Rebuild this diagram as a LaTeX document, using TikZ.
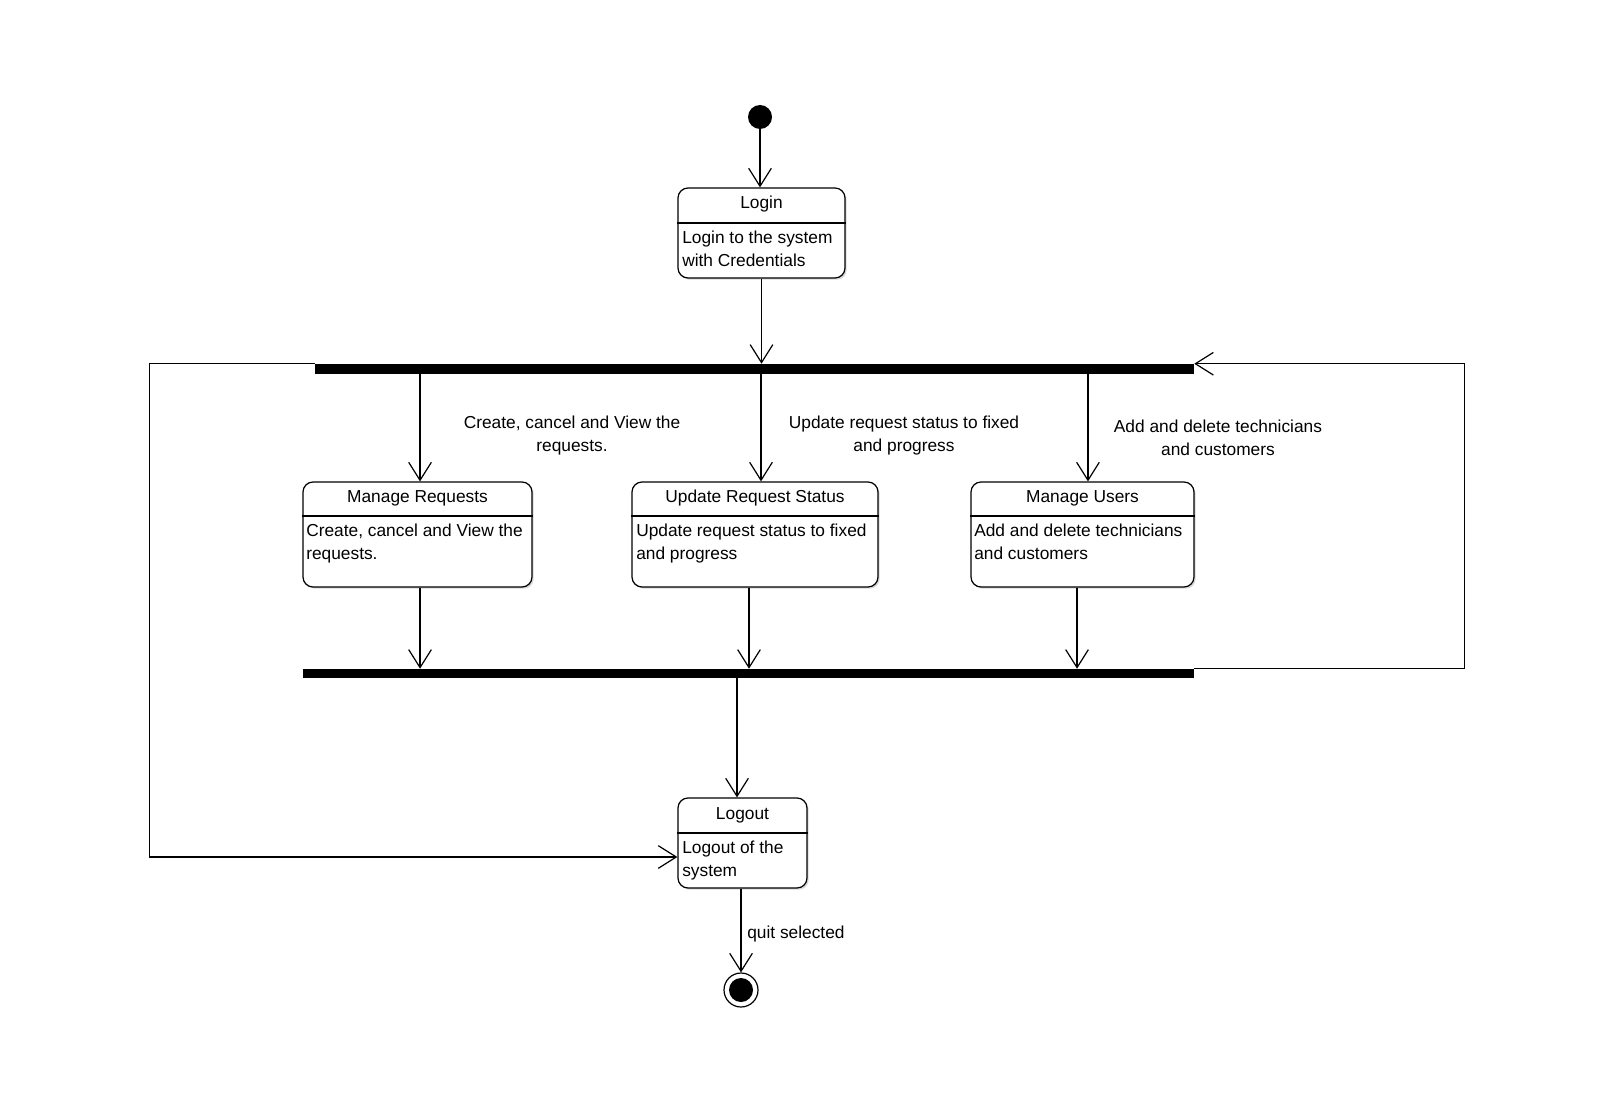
\documentclass[tikz,border=0pt]{standalone}
\usepackage{fontspec}
\setmainfont{Liberation Sans}
\usetikzlibrary{arrows.meta,fit,shadows}
\begin{document}
\begin{tikzpicture}[x=0.75pt,y=-0.75pt,
  every node/.style={font=\fontsize{13}{17.25}\selectfont},
  lw/.style={line width=0.9pt},
  arr/.style={lw,-{Straight Barb[length=13.5pt,width=17pt,line width=0.9pt]}},
  statebox/.style={draw,line width=0.9pt,rounded corners=7.5pt,inner sep=0pt,fill=white,
    drop shadow={shadow xshift=1.3pt,shadow yshift=-1.3pt,opacity=0.3}},
  syncbar/.style={fill=black,inner sep=0pt,rectangle},
  title/.style={anchor=base,inner sep=0pt},
  body/.style={anchor=north west,align=left,inner sep=0pt},
  lbl/.style={anchor=north,align=center,inner sep=0pt}]
\useasboundingbox (0,0) rectangle (1600,1095);
\fill[white] (0,0) rectangle (1600,1095);

% initial
\node[circle,fill=black,minimum size=18pt,inner sep=0pt] (init) at (760,117) {};

% Login
\node[statebox,fit={(678,188) (845,278)}] (login) {};
\draw[lw] (login.west |- 0,223) -- (login.east |- 0,223);
\node[title] (loginT) at (761.5,209) {Login};
\node[body] (loginB) at (682,230.6) {Login to the system\\with Credentials};

% bars
\node[syncbar,fit={(315,364) (1194,374)}] (fork) {};
\node[syncbar,fit={(303,669) (1194,678)}] (join) {};

% Manage Requests
\node[statebox,fit={(303,482) (532,587)}] (mr) {};
\draw[lw] (mr.west |- 0,516) -- (mr.east |- 0,516);
\node[title] (mrT) at (417.5,502) {Manage Requests};
\node[body] (mrB) at (306,523.6) {Create, cancel and View the\\requests.};

% Update Request Status
\node[statebox,fit={(632,482) (878,587)}] (urs) {};
\draw[lw] (urs.west |- 0,516) -- (urs.east |- 0,516);
\node[title] (ursT) at (755,502) {Update Request Status};
\node[body] (ursB) at (636,523.6) {Update request status to fixed\\and progress};

% Manage Users
\node[statebox,fit={(971,482) (1194,587)}] (mu) {};
\draw[lw] (mu.west |- 0,516) -- (mu.east |- 0,516);
\node[title] (muT) at (1082.5,502) {Manage Users};
\node[body] (muB) at (974,523.6) {Add and delete technicians\\and customers};

% Logout
\node[statebox,fit={(678,798) (807,888)}] (logout) {};
\draw[lw] (logout.west |- 0,833) -- (logout.east |- 0,833);
\node[title] (loT) at (742.5,819) {Logout};
\node[body] (loB) at (682,840.6) {Logout of the\\system};

% final
\node[circle,draw,line width=0.9pt,fill=white,minimum size=25.5pt,inner sep=0pt] (fin) at (741,990) {};
\node[circle,fill=black,minimum size=18pt,inner sep=0pt] (finin) at (fin) {};

% labels
\node[lbl] (l1) at (572,415.6) {Create, cancel and View the\\requests.};
\node[lbl] (l2) at (904,415.6) {Update request status to fixed\\and progress};
\node[lbl] (l3) at (1218,419.6) {Add and delete technicians\\and customers};
\node[anchor=base west,inner sep=0pt] (quit) at (747,938) {quit selected};

% helper coordinates
\coordinate (mrIn) at ([xshift=1.9pt]mr.north);
\coordinate (mrOut) at ([xshift=1.9pt]mr.south);
\coordinate (ursIn) at ([xshift=4.5pt]urs.north);
\coordinate (ursOut) at ([xshift=-4.5pt]urs.south);
\coordinate (muIn) at ([xshift=4.1pt]mu.north);
\coordinate (muOut) at ([xshift=-4.1pt]mu.south);
\coordinate (loIn) at ([xshift=-4.1pt]logout.north);
\coordinate (loOut) at ([xshift=-1.1pt]logout.south);
\coordinate (loLeft) at ([yshift=-10.5pt]logout.west);

% connectors
\draw[arr] (init.south) -- (init.south |- login.north);
\draw[arr] (login.south) -- (login.south |- fork.north);
\draw[arr] (fork.south -| mrIn) -- (mrIn);
\draw[arr] (fork.south -| ursIn) -- (ursIn);
\draw[arr] (fork.south -| muIn) -- (muIn);
\draw[arr] (mrOut) -- (mrOut |- join.north);
\draw[arr] (ursOut) -- (ursOut |- join.north);
\draw[arr] (muOut) -- (muOut |- join.north);
\draw[arr] (join.south -| loIn) -- (loIn);
\draw[arr] (loOut) -- (loOut |- fin.north);
\draw[arr] (fork.north west) -- ++(-165,0) |- (loLeft);
\draw[arr] (join.north east) -- ++(270,0) |- (fork.north east);
\end{tikzpicture}
\end{document}
